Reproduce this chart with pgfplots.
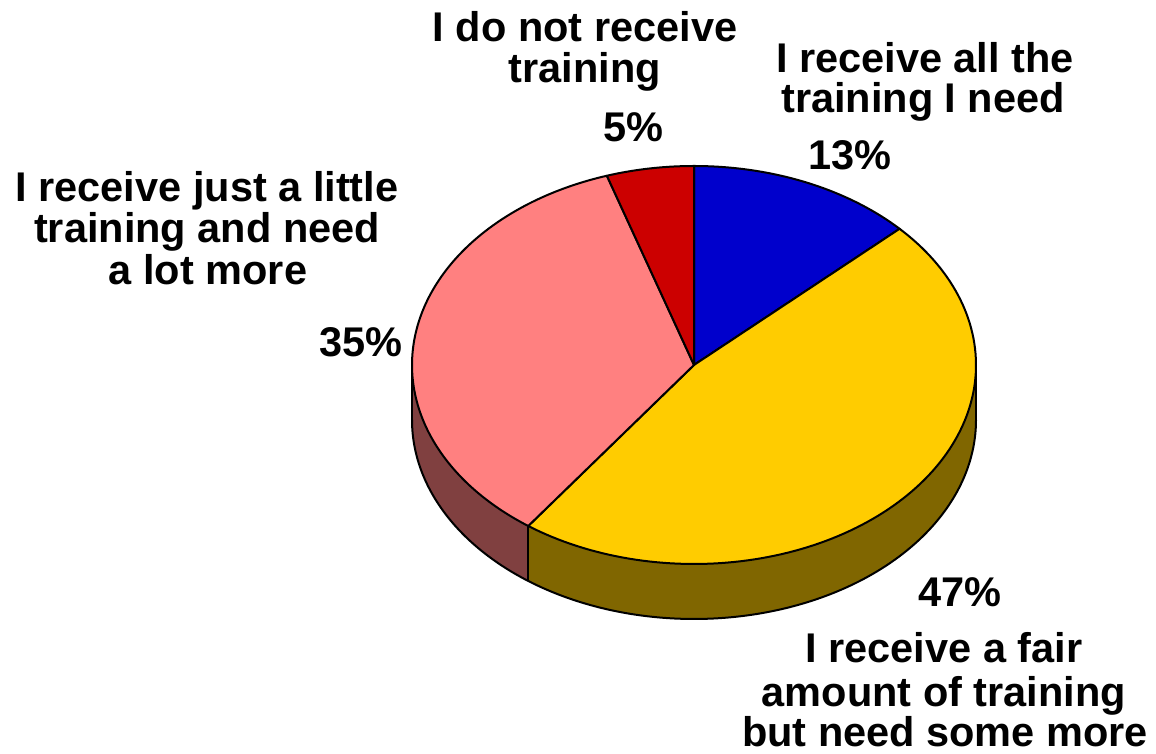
\documentclass[border=0pt]{standalone}
\usepackage{fontspec}
\setmainfont{Liberation Sans}
\usepackage{pgfplots}
\pgfplotsset{compat=1.18}
\usepackage{pgfplotstable}
\usepgfplotslibrary{fillbetween}

\definecolor{cAll}{HTML}{0000CC}
\definecolor{cFair}{HTML}{FFCC00}
\definecolor{cLittle}{HTML}{FF8080}
\definecolor{cNone}{HTML}{CC0000}
\definecolor{cFairSide}{HTML}{806600}
\definecolor{cLittleSide}{HTML}{804040}

% share of answers, clockwise from 12 o'clock
\pgfplotstableread{
key    value
all    13
fair   47
little 35
none   5
}\piedata

\pgfplotstablegetelem{0}{value}\of\piedata \let\vA\pgfplotsretval
\pgfplotstablegetelem{1}{value}\of\piedata \let\vB\pgfplotsretval
\pgfplotstablegetelem{2}{value}\of\piedata \let\vC\pgfplotsretval
\pgfplotstablegetelem{3}{value}\of\piedata \let\vD\pgfplotsretval

% pie geometry (pixel units of the picture)
\def\cx{694}\def\cy{389}\def\rx{282}\def\ry{199}\def\dep{55}
\pgfmathsetmacro\aA{90}
\pgfmathsetmacro\aB{\aA-3.6*\vA}
\pgfmathsetmacro\aC{\aB-3.6*\vB}
\pgfmathsetmacro\aD{\aC-3.6*\vC}
\pgfmathsetmacro\aE{\aD-3.6*\vD}
\pgfmathsetmacro\ytop{\cy}
\pgfmathsetmacro\ybot{\cy-\dep}
\pgfmathsetmacro\xL{\cx-\rx}
\pgfmathsetmacro\xR{\cx+\rx}
\pgfmathsetmacro\xM{\cx+\rx*cos(\aC)}
\pgfmathsetmacro\yMt{\cy+\ry*sin(\aC)}
\pgfmathsetmacro\yMb{\yMt-\dep}

\tikzset{lbl/.style={anchor=base,inner sep=0pt,font=\fontsize{20.75}{21}\selectfont\bfseries}}

\begin{document}
\begin{tikzpicture}
\begin{axis}[
  width=578pt, height=377pt, scale only axis,
  xmin=0, xmax=1156, ymin=0, ymax=754,
  hide axis, clip=false,
  samples=120, line join=round,
]
% side walls
\addplot[draw=none, name path=fu, domain=\aC:0] ({\cx+\rx*cos(x)},{\cy+\ry*sin(x)});
\addplot[black, line width=1pt, name path=fl, domain=\aC:0] ({\cx+\rx*cos(x)},{\cy-\dep+\ry*sin(x)});
\addplot[fill=cFairSide] fill between[of=fu and fl];
\addplot[draw=none, name path=lu, domain=-180:\aC] ({\cx+\rx*cos(x)},{\cy+\ry*sin(x)});
\addplot[black, line width=1pt, name path=ll, domain=-180:\aC] ({\cx+\rx*cos(x)},{\cy-\dep+\ry*sin(x)});
\addplot[fill=cLittleSide] fill between[of=lu and ll];
\addplot[black, line width=1pt] coordinates {(\xL,\ytop) (\xL,\ybot)};
\addplot[black, line width=1pt] coordinates {(\xR,\ytop) (\xR,\ybot)};
\addplot[black, line width=1pt] coordinates {(\xM,\yMt) (\xM,\yMb)};

% top faces
\addplot[fill=cAll, draw=black, line width=1pt, domain=\aB:\aA] ({\cx+\rx*cos(x)},{\cy+\ry*sin(x)}) -- (axis cs:\cx,\cy) -- cycle;
\addplot[fill=cFair, draw=black, line width=1pt, domain=\aC:\aB] ({\cx+\rx*cos(x)},{\cy+\ry*sin(x)}) -- (axis cs:\cx,\cy) -- cycle;
\addplot[fill=cLittle, draw=black, line width=1pt, domain=\aD:\aC] ({\cx+\rx*cos(x)},{\cy+\ry*sin(x)}) -- (axis cs:\cx,\cy) -- cycle;
\addplot[fill=cNone, draw=black, line width=1pt, domain=\aE:\aD] ({\cx+\rx*cos(x)},{\cy+\ry*sin(x)}) -- (axis cs:\cx,\cy) -- cycle;

% labels
\node[lbl] at (axis cs:585,712) {I do not receive};
\node[lbl] at (axis cs:585,671) {training};
\node[lbl] at (axis cs:633,612) {5\%};
\node[lbl] at (axis cs:925,681) {I receive all the};
\node[lbl] at (axis cs:923,641) {training I need};
\node[lbl] at (axis cs:850,584) {13\%};
\node[lbl] at (axis cs:207,552) {I receive just a little};
\node[lbl] at (axis cs:207,511) {training and need};
\node[lbl] at (axis cs:208,469) {a lot more};
\node[lbl] at (axis cs:361,397) {35\%};
\node[lbl] at (axis cs:960,147) {47\%};
\node[lbl] at (axis cs:944,91) {I receive a fair};
\node[lbl] at (axis cs:944,47) {amount of training};
\node[lbl] at (axis cs:945,7) {but need some more};
\end{axis}
\pgfresetboundingbox
\useasboundingbox (0,0) rectangle (578pt,377pt);
\end{tikzpicture}
\end{document}
